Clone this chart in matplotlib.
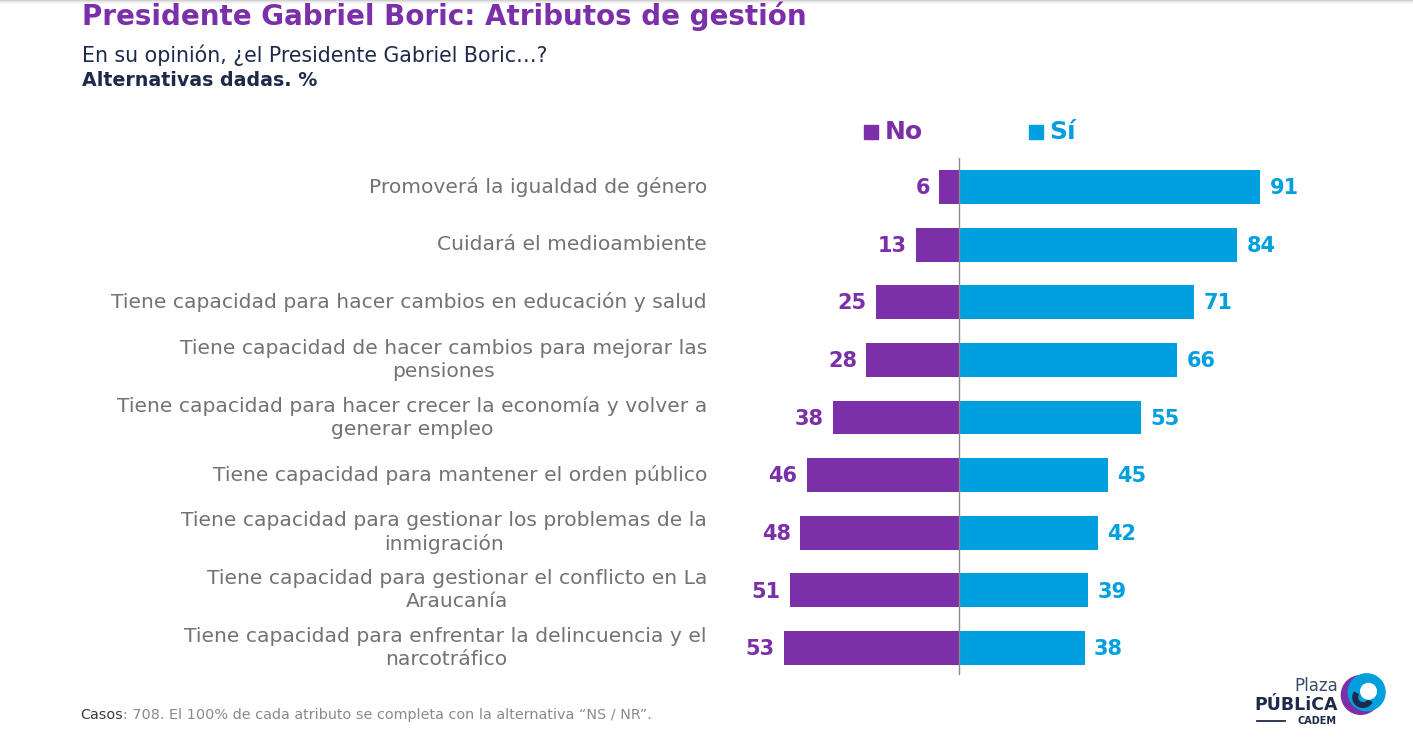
import matplotlib
matplotlib.use("Agg")
import matplotlib.pyplot as plt
from matplotlib.patches import Rectangle, Circle, Wedge
import numpy as np

categories = [
    "Promoverá la igualdad de género",
    "Cuidará el medioambiente",
    "Tiene capacidad para hacer cambios en educación y salud",
    "Tiene capacidad de hacer cambios para mejorar las\npensiones",
    "Tiene capacidad para hacer crecer la economía y volver a\ngenerar empleo",
    "Tiene capacidad para mantener el orden público",
    "Tiene capacidad para gestionar los problemas de la\ninmigración",
    "Tiene capacidad para gestionar el conflicto en La\nAraucanía",
    "Tiene capacidad para enfrentar la delincuencia y el\nnarcotráfico",
]
no_values = [6, 13, 25, 28, 38, 46, 48, 51, 53]
si_values = [91, 84, 71, 66, 55, 45, 42, 39, 38]
series_names = ["No", "Sí"]

PURPLE = "#7B2FA8"
BLUE = "#00A0DF"
NAVY = "#1E2A4A"
GRAY = "#737373"
FONT = "DejaVu Sans"

W, H = 1413, 741
fig = plt.figure(figsize=(W / 100, H / 100), dpi=100)
fig.patch.set_facecolor("white")

def fx(px):
    return px / W

def fy(py):
    return 1 - py / H

# main axes: pixel x 740..1340, y 158..675
ax_l, ax_r, ax_t, ax_b = 740, 1340, 158, 675
ax = fig.add_axes([fx(ax_l), fy(ax_b), fx(ax_r - ax_l), (ax_b - ax_t) / H])
scale = 3.31
x0 = 959
ax.set_xlim((ax_l - x0) / scale, (ax_r - x0) / scale)
step = 57.625
yc0 = 187
ax.set_ylim((ax_b - yc0) / step, (ax_t - yc0) / step)
ax.axis("off")

y = np.arange(len(categories))
ax.barh(y, [-v for v in no_values], height=0.59, color=PURPLE, zorder=2)
ax.barh(y, si_values, height=0.59, color=BLUE, zorder=2)
ax.axvline(0, color="#8a8a8a", lw=1.0, zorder=3)

for i, (n, s) in enumerate(zip(no_values, si_values)):
    ax.text(-n - 2.8, i + 0.02, str(n), ha="right", va="center", color=PURPLE,
            fontsize=15, fontweight="bold", family=FONT)
    ax.text(s + 2.8, i + 0.02, str(s), ha="left", va="center", color=BLUE,
            fontsize=15, fontweight="bold", family=FONT)

# category labels
for i, c in enumerate(categories):
    ypx = yc0 + i * step
    fig.text(fx(707), fy(ypx), c, ha="right", va="center", multialignment="center",
             color=GRAY, fontsize=14.6, family=FONT, linespacing=1.25)

# legend
fig.patches.append(Rectangle((fx(864), fy(139)), fx(14), 14 / H, transform=fig.transFigure,
                             color=PURPLE, figure=fig))
fig.text(fx(885), fy(132), series_names[0], ha="left", va="center", color=PURPLE,
         fontsize=18, fontweight="bold", family=FONT)
fig.patches.append(Rectangle((fx(1029), fy(139)), fx(14), 14 / H, transform=fig.transFigure,
                             color=BLUE, figure=fig))
fig.text(fx(1049), fy(132), series_names[1], ha="left", va="center", color=BLUE,
         fontsize=18, fontweight="bold", family=FONT)

# title / subtitle
fig.text(fx(82), fy(16), "Presidente Gabriel Boric: Atributos de gestión", ha="left",
         va="center", color=PURPLE, fontsize=20, fontweight="bold", family=FONT)
fig.text(fx(82), fy(55), "En su opinión, ¿el Presidente Gabriel Boric…?", ha="left",
         va="center", color=NAVY, fontsize=14.8, family=FONT)
fig.text(fx(82), fy(80), "Alternativas dadas. %", ha="left", va="center", color=NAVY,
         fontsize=13.7, fontweight="bold", family=FONT)

# top shadow
for k, a in enumerate([0.35, 0.22, 0.12, 0.05]):
    fig.patches.append(Rectangle((0, fy(k + 1)), 1, 1 / H, transform=fig.transFigure,
                                 color="#808080", alpha=a, lw=0, figure=fig))

# footnote
t1 = fig.text(fx(80), fy(715), "Casos", ha="left", va="center", color="#3a3a3a",
              fontsize=10.4, family=FONT)
fig.canvas.draw()
bb = t1.get_window_extent()
fig.text(bb.x1 / W, fy(715), ": 708. El 100% de cada atributo se completa con la alternativa “NS / NR”.",
         ha="left", va="center", color="#8a8a8a", fontsize=10.4, family=FONT)

# logo
fig.text(fx(1338), fy(686), "Plaza", ha="right", va="center", color="#3a4a6a",
         fontsize=12, family=FONT)
fig.text(fx(1338), fy(705), "PÚBLiCA", ha="right", va="center", color=NAVY,
         fontsize=12.5, fontweight="bold", family=FONT)
fig.text(fx(1337), fy(721), "CADEM", ha="right", va="center", color=NAVY,
         fontsize=7, fontweight="bold", family=FONT)
fig.lines.append(plt.Line2D([fx(1257), fx(1285)], [fy(721), fy(721)], transform=fig.transFigure,
                            color=NAVY, lw=1.3, figure=fig))
lax = fig.add_axes([fx(1340), fy(718), fx(46), 46 / H])
lax.set_xlim(0, 1)
lax.set_ylim(0, 1)
lax.set_aspect("equal")
lax.axis("off")
lax.add_patch(Circle((0.45, 0.5), 0.42, color=PURPLE))
lax.add_patch(Circle((0.58, 0.56), 0.40, color=BLUE))
lax.add_patch(Wedge((0.5, 0.45), 0.22, 150, 330, width=0.1, color=NAVY))
lax.add_patch(Circle((0.62, 0.58), 0.17, color="white"))

fig.savefig("out.png", dpi=100, facecolor="white")
